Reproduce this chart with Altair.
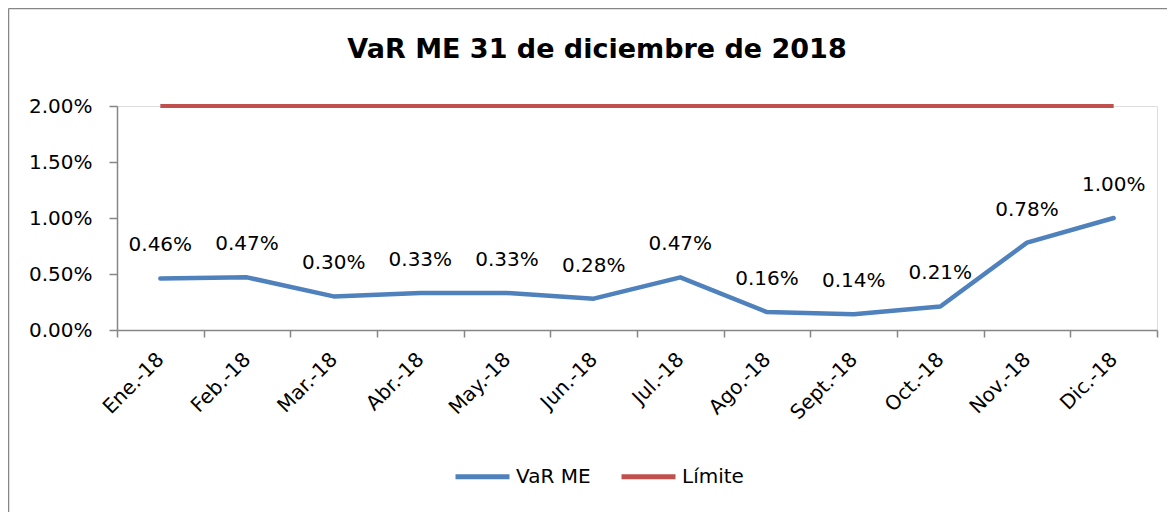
import altair as alt
import pandas as pd

months = ["Ene.-18", "Feb.-18", "Mar.-18", "Abr.-18", "May.-18", "Jun.-18",
          "Jul.-18", "Ago.-18", "Sept.-18", "Oct.-18", "Nov.-18", "Dic.-18"]
var_me = [0.46, 0.47, 0.30, 0.33, 0.33, 0.28, 0.47, 0.16, 0.14, 0.21, 0.78, 1.00]
limite = [2.00, 2.00, 2.00, 2.00, 2.00, 2.00, 2.00, 2.00, 2.00, 2.00, 2.00, 2.00]
series_names = ["VaR ME", "Límite"]
series_colors = ["#4F81BD", "#C0504D"]
y_ticks = [0.0, 0.005, 0.01, 0.015, 0.02]
title_text = "VaR ME 31 de diciembre de 2018"

FONT = "DejaVu Sans"
GRAY = "#868686"

rows = []
for m, v in zip(months, var_me):
    rows.append({"month": m, "series": "VaR ME", "value": v / 100})
for m, v in zip(months, limite):
    rows.append({"month": m, "series": "Límite", "value": v / 100})
df = pd.DataFrame(rows)

W, H = 1040, 224

x_enc = alt.X(
    "month:N",
    sort=months,
    bandPosition=0.5,
    scale=alt.Scale(type="band", domain=months, paddingInner=0, paddingOuter=0),
    axis=alt.Axis(
        title=None, tickBand="extent", tickSize=7, tickColor=GRAY, tickWidth=1.5,
        domainColor=GRAY, domainWidth=1.5, labelAngle=-45, labelAlign="right",
        labelBaseline="middle", labelFontSize=20, labelFont=FONT, labelColor="black",
        labelPadding=19, grid=False,
    ),
)
y_enc = alt.Y(
    "value:Q",
    scale=alt.Scale(domain=[0, 0.02], nice=False),
    axis=alt.Axis(
        title=None, values=y_ticks, format=".2%", tickSize=8, tickColor=GRAY,
        tickWidth=1.5, domainColor=GRAY, domainWidth=1.5, labelFontSize=20,
        labelFont=FONT, labelColor="black", labelPadding=17, grid=False,
    ),
)
color_enc = alt.Color(
    "series:N",
    scale=alt.Scale(domain=series_names, range=series_colors),
    legend=alt.Legend(
        title=None, orient="none", direction="horizontal", legendX=336, legendY=341,
        symbolType="stroke", symbolSize=2916, symbolStrokeWidth=5,
        labelFontSize=20, labelFont=FONT, labelColor="black", labelOffset=4,
        columnPadding=20, padding=0,
    ),
)

base = alt.Chart(df)

red_line = base.transform_filter(alt.datum.series == "Límite").mark_line(
    strokeWidth=4
).encode(x=x_enc, y=y_enc, color=color_enc)

blue_line = base.transform_filter(alt.datum.series == "VaR ME").mark_line(
    strokeWidth=4.5, strokeCap="round", strokeJoin="round"
).encode(x=x_enc, y=y_enc, color=color_enc)

labels = base.transform_filter(alt.datum.series == "VaR ME").mark_text(
    dy=-33, baseline="middle", align="center", fontSize=20, font=FONT, color="black"
).encode(x=x_enc, y=y_enc, text=alt.Text("value:Q", format=".2%"))

one = alt.Data(values=[{"a": 1}])
frame_left = alt.Chart(one).mark_rule(color=GRAY, strokeWidth=1.5).encode(
    x=alt.value(-108.5), y=alt.value(-97.5), y2=alt.value(600)
)
frame_top = alt.Chart(one).mark_rule(color=GRAY, strokeWidth=1.5).encode(
    x=alt.value(-108.5), x2=alt.value(1200), y=alt.value(-97.5)
)

title = alt.Chart(alt.Data(values=[{"t": title_text}])).mark_text(
    fontSize=27, font=FONT, fontWeight="bold", color="black",
    align="center", baseline="middle"
).encode(text="t:N", x=alt.value(480), y=alt.value(-56))

chart = alt.layer(frame_left, frame_top, title, red_line, blue_line, labels).properties(
    width=W, height=H,
    autosize=alt.AutoSizeParams(type="none"),
    padding={"left": 109, "top": 98, "right": 10, "bottom": 200},
).configure_view(stroke=None).configure(background="white")

chart.save("out.html", embed_options={"renderer": "svg", "actions": False})
